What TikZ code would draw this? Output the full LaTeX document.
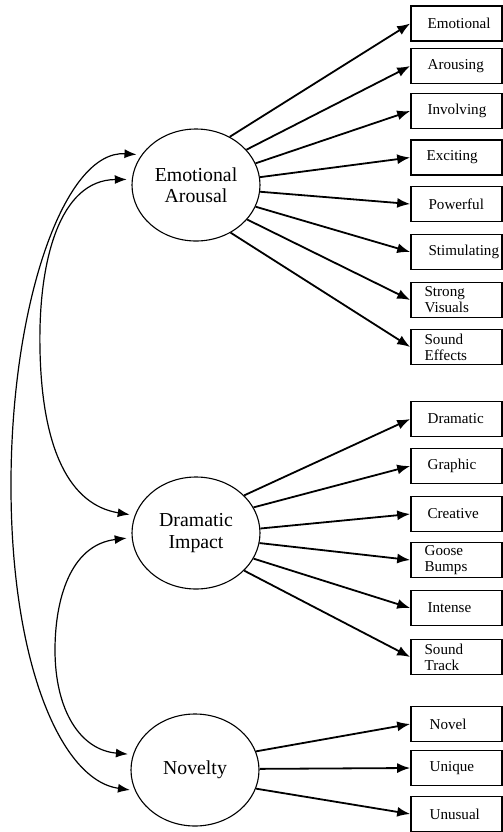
\documentclass[tikz,border=0pt]{standalone}
\usepackage{fontspec}
\setmainfont{Liberation Serif}
\usetikzlibrary{arrows.meta,shapes.geometric}
\begin{document}
\begin{tikzpicture}[x=0.5pt,y=-0.5pt,
  latent/.style={ellipse,draw,line width=0.55pt,minimum width=64pt,minimum height=56pt,inner sep=0pt,align=center,font=\fontsize{9.9}{10.6}\selectfont},
  indbox/.style={rectangle,draw,line width=0.8pt,minimum width=45.5pt,minimum height=17.5pt,inner sep=0pt},
  indlbl/.style={anchor=west,inner sep=0pt,align=left,font=\fontsize{7.55}{7.9}\selectfont},
  load/.style={-{Latex[length=6.5pt,width=5pt]},line width=0.9pt},
  cov/.style={{Latex[length=6pt,width=4.5pt]}-{Latex[length=6pt,width=4.5pt]},line width=0.6pt,shorten <=2.5pt,shorten >=2.5pt}
]
\useasboundingbox (0,0) rectangle (503,832);

% latent variables
\node[latent] (EA) at (196,185) {Emotional\\Arousal};
\node[latent] (DI) at (196,533) {Dramatic\\Impact};
\node[latent] (NV) at (195,770) {Novelty};

% indicator boxes
\node[indbox] (b1) at (456.5,23.5) {};
\node[indbox] (b2) at (456.5,66) {};
\node[indbox] (b3) at (456.5,111) {};
\node[indbox] (b4) at (456.5,157.5) {};
\node[indbox] (b5) at (456.5,204) {};
\node[indbox] (b6) at (456.5,252) {};
\node[indbox] (b7) at (456.5,300) {};
\node[indbox] (b8) at (456.5,347) {};
\node[indbox] (c1) at (456.5,419) {};
\node[indbox] (c2) at (456.5,466) {};
\node[indbox] (c3) at (456.5,514) {};
\node[indbox] (c4) at (456.5,560) {};
\node[indbox] (c5) at (456.5,608) {};
\node[indbox] (c6) at (456.5,657) {};
\node[indbox] (d1) at (456.5,724) {};
\node[indbox] (d2) at (456.5,768) {};
\node[indbox] (d3) at (456.5,814) {};

% labels
\node[indlbl] (tb1) at ([xshift=8.5pt]b1.west) {Emotional};
\node[indlbl] (tb2) at ([xshift=8.5pt]b2.west) {Arousing};
\node[indlbl] (tb3) at ([xshift=8.5pt]b3.west) {Involving};
\node[indlbl] (tb4) at ([xshift=8pt]b4.west) {Exciting};
\node[indlbl] (tb5) at ([xshift=9pt]b5.west) {Powerful};
\node[indlbl] (tb6) at ([xshift=9pt]b6.west) {Stimulating};
\node[indlbl] (tb7) at ([xshift=7pt]b7.west) {Strong\\Visuals};
\node[indlbl] (tb8) at ([xshift=7pt]b8.west) {Sound\\Effects};
\node[indlbl] (tc1) at ([xshift=8.5pt]c1.west) {Dramatic};
\node[indlbl] (tc2) at ([xshift=8.5pt]c2.west) {Graphic};
\node[indlbl] (tc3) at ([xshift=8.5pt]c3.west) {Creative};
\node[indlbl] (tc4) at ([xshift=7pt]c4.west) {Goose\\Bumps};
\node[indlbl] (tc5) at ([xshift=8.5pt]c5.west) {Intense};
\node[indlbl] (tc6) at ([xshift=7pt]c6.west) {Sound\\Track};
\node[indlbl] (td1) at ([xshift=9.5pt]d1.west) {Novel};
\node[indlbl] (td2) at ([xshift=9.5pt]d2.west) {Unique};
\node[indlbl] (td3) at ([xshift=9.5pt]d3.west) {Unusual};

% loadings
\draw[load] (EA.55) -- (b1.west);
\draw[load] (EA.35) -- (b2.west);
\draw[load] (EA.20) -- (b3.west);
\draw[load] (EA.7) -- (b4.west);
\draw[load] (EA.-6) -- (b5.west);
\draw[load] (EA.-20) -- (b6.west);
\draw[load] (EA.-34) -- (b7.west);
\draw[load] (EA.-54) -- (b8.west);
\draw[load] (DI.38) -- (c1.west);
\draw[load] (DI.24) -- (c2.west);
\draw[load] (DI.4) -- (c3.west);
\draw[load] (DI.-9) -- (c4.west);
\draw[load] (DI.-24) -- (c5.west);
\draw[load] (DI.-38) -- (c6.west);
\draw[load] (NV.17) -- (d1.west);
\draw[load] (NV.1) -- (d2.west);
\draw[load] (NV.-17) -- (d3.west);

% covariances
\draw[cov] (EA.151) .. controls (65,150) and (12,300) .. (11,480)
  .. controls (10,660) and (60,780) .. (NV.199);
\draw[cov] (EA.175) .. controls (60,180) and (38,260) .. (40,350)
  .. controls (42,450) and (70,505) .. (DI.164);
\draw[cov] (DI.184) .. controls (70,545) and (55,600) .. (55,650)
  .. controls (55,710) and (80,750) .. (NV.166);
\end{tikzpicture}
\end{document}
